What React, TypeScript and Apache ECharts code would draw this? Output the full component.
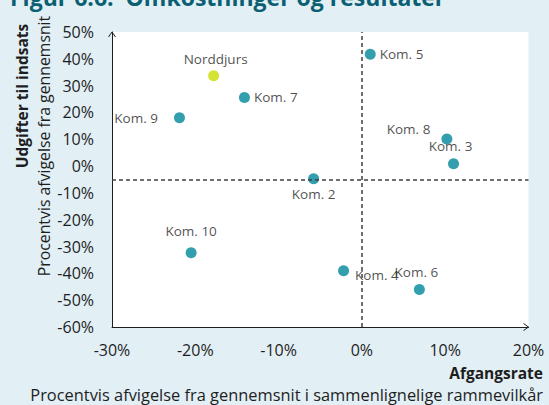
import React, { useEffect, useRef } from 'react';
import * as echarts from 'echarts';

// ---- data ----
const names = ['Norddjurs', 'Kom. 2', 'Kom. 3', 'Kom. 4', 'Kom. 5', 'Kom. 6', 'Kom. 7', 'Kom. 8', 'Kom. 9', 'Kom. 10'];
const afgangsrate = [-17.8, -5.8, 11.0, -2.2, 1.0, 6.9, -14.1, 10.2, -21.9, -20.5];
const udgifter = [33.7, -4.7, 0.9, -39.0, 41.7, -46.0, 25.6, 10.1, 18.0, -32.3];
const highlighted = 'Norddjurs';
const refAfgangsrate = 0;
const refUdgifter = -5;
const xRange = [-30, 20];
const yRange = [-60, 50];
const tickStep = 10;

const titleText = 'Figur 6.6:  Omkostninger og resultater';
const xTitle = 'Afgangsrate';
const xSubtitle = 'Procentvis afvigelse fra gennemsnit i sammenlignelige rammevilkår';
const yTitle = 'Udgifter til indsats';
const ySubtitle = 'Procentvis afvigelse fra gennemsnit';

// ---- label layout (styles, not data) ----
const labelLayout: Record<string, { position: string; distance: number; offset?: number[] }> = {
  'Norddjurs': { position: 'top', distance: 4, offset: [2, 0] },
  'Kom. 2': { position: 'bottom', distance: 3 },
  'Kom. 3': { position: 'top', distance: 5, offset: [-3, 0] },
  'Kom. 4': { position: 'right', distance: 6, offset: [0, 4] },
  'Kom. 5': { position: 'right', distance: 4 },
  'Kom. 6': { position: 'top', distance: 5, offset: [-3, 0] },
  'Kom. 7': { position: 'right', distance: 4 },
  'Kom. 8': { position: 'left', distance: 11, offset: [0, -10] },
  'Kom. 9': { position: 'left', distance: 16 },
  'Kom. 10': { position: 'top', distance: 9 },
};

const FONT = '"Open Sans", sans-serif';
const TEAL = '#00879a';
const LIME = '#cbdc00';
const TEXT = '#1e1e1e';

export default function App() {
  const ref = useRef<HTMLDivElement>(null);
  useEffect(() => {
    if (!ref.current) return;
    const chart = echarts.init(ref.current, undefined, { renderer: 'svg' });
    const data = names.map((n, i) => ({
      name: n,
      value: [afgangsrate[i], udgifter[i]],
      itemStyle: { color: n === highlighted ? LIME : TEAL },
      label: {
        show: true,
        formatter: n,
        position: labelLayout[n].position,
        distance: labelLayout[n].distance,
        offset: labelLayout[n].offset || [0, 0],
      },
    }));
    const axisCommon = {
      type: 'value',
      interval: tickStep,
      splitLine: { show: false },
      axisTick: { show: false },
      axisLine: { onZero: false, lineStyle: { color: TEXT, width: 1 } },
    };
    chart.setOption({
      animation: false,
      backgroundColor: '#e2eff5',
      textStyle: { fontFamily: FONT },
      grid: { left: 112, right: 20.5, top: 32, bottom: 78, show: true, backgroundColor: '#ffffff', borderWidth: 0 },
      xAxis: {
        ...axisCommon,
        min: xRange[0],
        max: xRange[1],
        axisLabel: { formatter: '{value}%', margin: 15, fontSize: 16, color: TEXT, fontFamily: FONT },
      },
      yAxis: {
        ...axisCommon,
        min: yRange[0],
        max: yRange[1],
        axisLabel: { formatter: '{value}%', margin: 18, fontSize: 16, color: TEXT, fontFamily: FONT },
      },
      series: [
        {
          type: 'scatter',
          symbolSize: 11,
          data,
          label: { color: TEXT, fontSize: 13.5, fontFamily: FONT },
          markLine: {
            silent: true,
            symbol: 'none',
            label: { show: false },
            lineStyle: { type: [4, 3], color: '#404040', width: 1.5 },
            data: [{ xAxis: refAfgangsrate }, { yAxis: refUdgifter }],
          },
        },
      ],
    });
    const tl = chart.convertToPixel({ gridIndex: 0 }, [xRange[0], yRange[1]]) as number[];
    const br = chart.convertToPixel({ gridIndex: 0 }, [xRange[1], yRange[0]]) as number[];
    chart.setOption({
      graphic: [
        {
          type: 'polyline',
          shape: { points: [[tl[0] - 3.5, tl[1] + 5], [tl[0], tl[1]], [tl[0] + 3.5, tl[1] + 5]] },
          style: { stroke: TEXT, lineWidth: 1, fill: 'none' },
        },
        {
          type: 'polyline',
          shape: { points: [[br[0] - 5, br[1] - 3.5], [br[0], br[1]], [br[0] - 5, br[1] + 3.5]] },
          style: { stroke: TEXT, lineWidth: 1, fill: 'none' },
        },
        {
          type: 'text', x: 10, y: 8,
          style: { text: titleText, font: `bold 23px ${FONT}`, fill: '#0a6072', textVerticalAlign: 'bottom' },
        },
        {
          type: 'text', x: 543, y: 372.5,
          style: { text: xTitle, font: `bold 15.5px ${FONT}`, fill: TEXT, textAlign: 'right', textVerticalAlign: 'middle' },
        },
        {
          type: 'text', x: 543, y: 394.5,
          style: { text: xSubtitle, font: `16.4px ${FONT}`, fill: TEXT, textAlign: 'right', textVerticalAlign: 'middle' },
        },
        {
          type: 'text', x: 22, y: 96, rotation: Math.PI / 2,
          style: { text: yTitle, font: `bold 15.5px ${FONT}`, fill: TEXT, textAlign: 'center', textVerticalAlign: 'middle' },
        },
        {
          type: 'text', x: 44, y: 146, rotation: Math.PI / 2,
          style: { text: ySubtitle, font: `15.8px ${FONT}`, fill: TEXT, textAlign: 'center', textVerticalAlign: 'middle' },
        },
      ],
    });
    return () => chart.dispose();
  }, []);
  return <div ref={ref} style={{ position: 'fixed', left: 0, top: 0, width: 549, height: 405 }} />;
}
